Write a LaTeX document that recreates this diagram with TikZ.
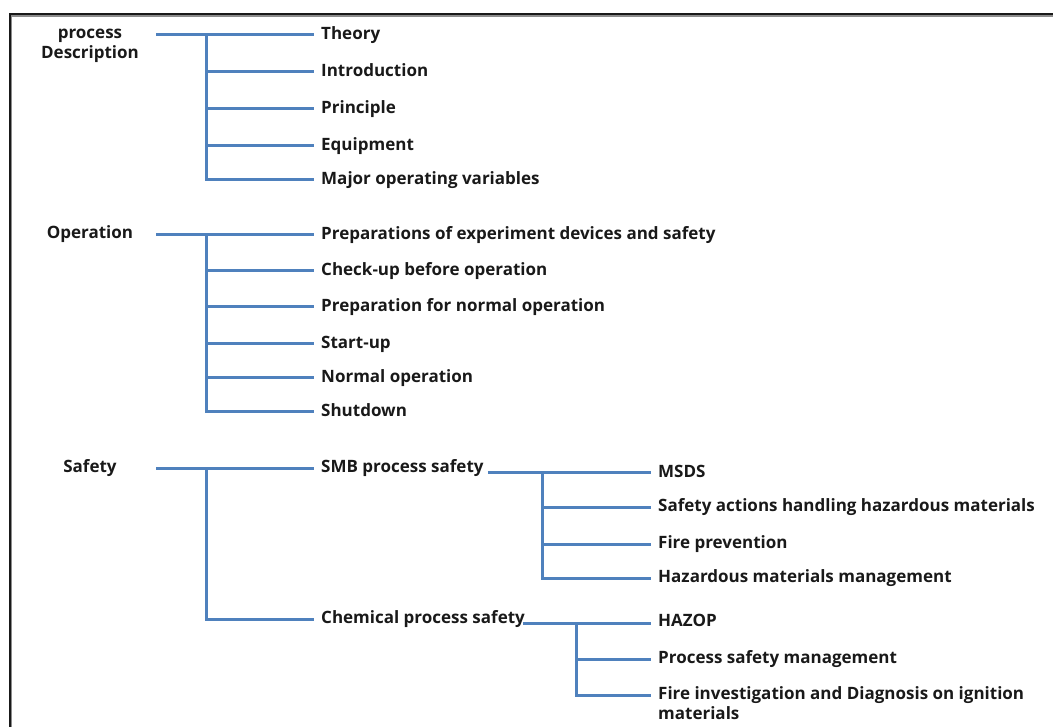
\documentclass[tikz,border=0pt]{standalone}
\usepackage{fontspec}
\setmainfont{Open Sans}
\definecolor{linkblue}{RGB}{79,129,189}
\begin{document}
\begin{tikzpicture}[x=1pt,y=-1pt,
  conn/.style={draw=linkblue, line width=3pt},
  txt/.style={font=\fontsize{17}{20}\selectfont\bfseries, text=black!90},
  item/.style={txt, anchor=west, inner xsep=7pt, inner ysep=0pt, text height=12.2pt, text depth=2.5pt},
  head/.style={txt, inner sep=0pt, text height=12.2pt, text depth=2.5pt},
  headtwo/.style={txt, inner sep=0pt, align=center}]
\useasboundingbox (0,0) rectangle (1053,727);

% frame
\draw[black!90, line width=2pt] (9.7,727) -- (9.7,14.3) -- (1053,14.3);
\draw[black!45, line width=1.3pt] (11.6,727) -- (11.6,16) -- (1053,16);

% ---------- process description ----------
\node[headtwo] (pd) at (90,46) {process\\Description};
\node[item] (theory)    at (314,35)   {Theory};
\node[item] (intro)     at (314,71.5) {Introduction};
\node[item] (principle) at (314,108.5){Principle};
\node[item] (equip)     at (314,146)  {Equipment};
\node[item] (major)     at (314,180)  {Major operating variables};
\coordinate (t1) at (156,35);
\coordinate (j1) at (206,35);
\draw[conn] (t1) -- (theory.west);
\foreach \n in {intro,principle,equip,major} \draw[conn] (j1) |- (\n.west);

% ---------- operation ----------
\node[head] (op) at (90,234) {Operation};
\node[item] (prep)    at (314,235)  {Preparations of experiment devices and safety};
\node[item] (check)   at (314,270.5){Check-up before operation};
\node[item] (prepn)   at (314,307)  {Preparation for normal operation};
\node[item] (start)   at (314,344)  {Start-up};
\node[item] (normal)  at (314,378)  {Normal operation};
\node[item] (shut)    at (314,411.5){Shutdown};
\coordinate (t2) at (156,235);
\coordinate (j2) at (206,235);
\draw[conn] (t2) -- (prep.west);
\foreach \n in {check,prepn,start,normal,shut} \draw[conn] (j2) |- (\n.west);

% ---------- safety ----------
\node[head] (saf) at (90,468) {Safety};
\node[item] (smb)  at (314,468) {SMB process safety};
\node[item] (chem) at (314,619) {Chemical process safety};
\coordinate (t3) at (156,468);
\coordinate (j3) at (206,468);
\draw[conn] (t3) -- (smb.west);
\draw[conn] (j3) |- (chem.west);

% SMB process safety
\node[item] (msds)   at (651,473) {MSDS};
\node[item] (act)    at (651,507) {Safety actions handling hazardous materials};
\node[item] (fire)   at (651,544) {Fire prevention};
\node[item] (hazmat) at (651,578) {Hazardous materials management};
\coordinate (j4) at (542,473);
\draw[conn, shorten <=-3pt] (smb.base east) -- (smb.base east -| msds.west);
\foreach \n in {act,fire,hazmat} \draw[conn] (j4) |- (\n.west);

% chemical process safety
\node[item] (hazop) at (651,622) {HAZOP};
\node[item] (psm)   at (651,659) {Process safety management};
\node[item] (finv)  at (651,695) {Fire investigation and Diagnosis on ignition};
\node[item, anchor=base west] (finvb) at ([yshift=-20pt]finv.base west) {materials};
\coordinate (j5) at (576,623.8);
\draw[conn, shorten <=-9pt] (chem.base east) -- (chem.base east -| hazop.west);
\foreach \n in {psm,finv} \draw[conn] (j5) |- (\n.west);
\end{tikzpicture}
\end{document}
